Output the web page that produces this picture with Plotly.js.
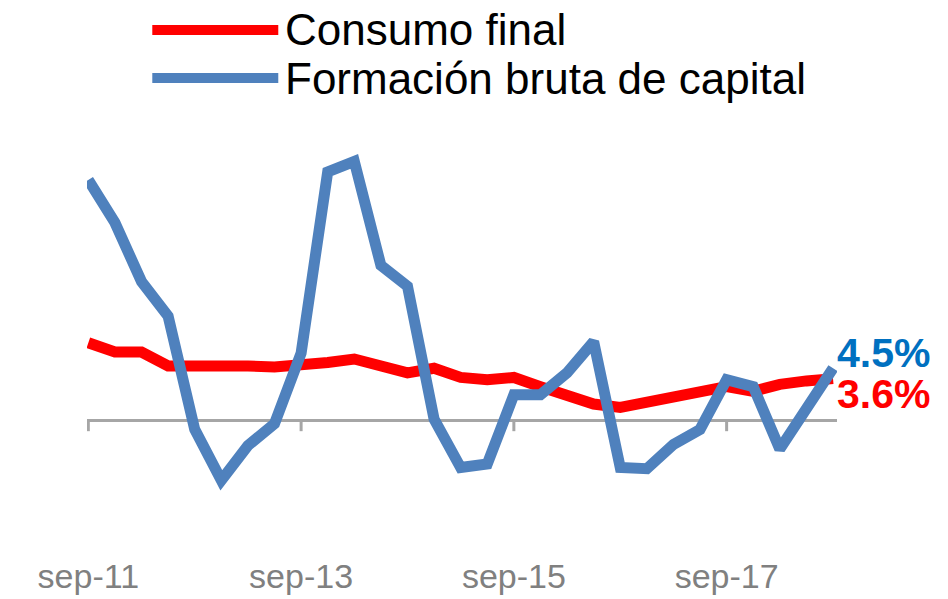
<!DOCTYPE html>
<html>
<head>
<meta charset="utf-8">
<script src="https://cdn.plot.ly/plotly-3.0.1.min.js"></script>
<style>html,body{margin:0;padding:0;background:#fff;}#chart{width:948px;height:599px;}</style>
</head>
<body>
<div id="chart"></div>
<script>
var categories = ["sep-11","dic-11","mar-12","jun-12","sep-12","dic-12","mar-13","jun-13",
  "sep-13","dic-13","mar-14","jun-14","sep-14","dic-14","mar-15","jun-15",
  "sep-15","dic-15","mar-16","jun-16","sep-16","dic-16","mar-17","jun-17",
  "sep-17","dic-17","mar-18","jun-18","sep-18"];
var consumoFinal = [6.7,5.9,5.9,4.7,4.7,4.8,4.7,4.6,4.7,5.0,5.3,4.7,4.1,4.5,3.7,3.5,
  3.7,2.9,2.2,1.4,1.1,1.6,2.0,2.5,2.9,2.5,3.1,3.4,3.6];
var formacionBruta = [20.8,17.1,12.0,9.0,-0.8,-5.2,-2.2,-0.3,5.8,21.5,22.4,13.4,11.6,0.1,-4.1,-3.8,
  2.2,2.2,4.1,6.8,-4.1,-4.2,-2.1,-0.8,3.5,2.9,-2.5,1.2,4.5];
var tickLabels = ["sep-11","sep-13","sep-15","sep-17"];
var seriesNames = ["Consumo final","Formación bruta de capital"];

var red = "#FF0000", blue = "#4F81BD";
var last = categories.length - 1;

// plot-area geometry (pixels)
var W = 948, H = 599, ML = 86.7, MR = 111.2, MT = 143, MB = 46;
var PW = W - ML - MR, PH = H - MT - MB;
function px2x(px){ return (px - ML) / PW; }
function px2y(py){ return 1 - (py - MT) / PH; }

var tickShapes = tickLabels.map(function(t){
  var i = categories.indexOf(t);
  return {type:"line", xref:"x", yref:"y", ysizemode:"pixel", yanchor:0,
    x0:i, x1:i, y0:0, y1:-11, line:{color:"#A6A6A6", width:3}};
});

// manual legend (line samples + labels)
var legendColors = [red, blue];
var legendRows = [30, 78];
var legendShapes = seriesNames.map(function(n, k){
  return {type:"line", xref:"paper", yref:"paper",
    x0:px2x(152), x1:px2x(278), y0:px2y(legendRows[k]), y1:px2y(legendRows[k]),
    line:{color:legendColors[k], width:10}};
});
var legendTexts = seriesNames.map(function(n, k){
  return {xref:"paper", yref:"paper", x:px2x(283), y:px2y(legendRows[k]), text:n,
    showarrow:false, xanchor:"left", yanchor:"middle",
    font:{size:44, color:"#000"}};
});

var data = [
  {x:categories, y:consumoFinal, type:"scatter", mode:"lines", name:seriesNames[0],
   line:{color:red, width:11}},
  {x:categories, y:formacionBruta, type:"scatter", mode:"lines", name:seriesNames[1],
   line:{color:blue, width:11}}
];

var layout = {
  width:W, height:H,
  margin:{l:ML, r:MR, t:MT, b:MB},
  paper_bgcolor:"#fff", plot_bgcolor:"#fff",
  font:{family:"Liberation Sans, Arial, sans-serif"},
  showlegend:false,
  xaxis:{type:"category", range:[-0.05, 28.15], tickvals:tickLabels, ticktext:tickLabels,
    showgrid:false, zeroline:false, showline:false, ticks:"",
    tickfont:{size:34, color:"#808080"}, fixedrange:true},
  yaxis:{range:[-11.5, 24], showgrid:false, zeroline:true, zerolinecolor:"#A6A6A6",
    zerolinewidth:3, showticklabels:false, ticks:"", showline:false},
  shapes:tickShapes.concat(legendShapes),
  annotations:legendTexts.concat([
    {x:categories[last], y:formacionBruta[last], xref:"x", yref:"y", text:"<b>4.5%</b>",
     showarrow:false, xanchor:"left", yanchor:"middle", xshift:2, yshift:15,
     font:{size:41, color:"#0070C0"}},
    {x:categories[last], y:consumoFinal[last], xref:"x", yref:"y", text:"<b>3.6%</b>",
     showarrow:false, xanchor:"left", yanchor:"middle", xshift:2, yshift:-15,
     font:{size:41, color:red}}
  ])
};
Plotly.newPlot("chart", data, layout, {displayModeBar:false, staticPlot:true});
</script>
</body>
</html>
